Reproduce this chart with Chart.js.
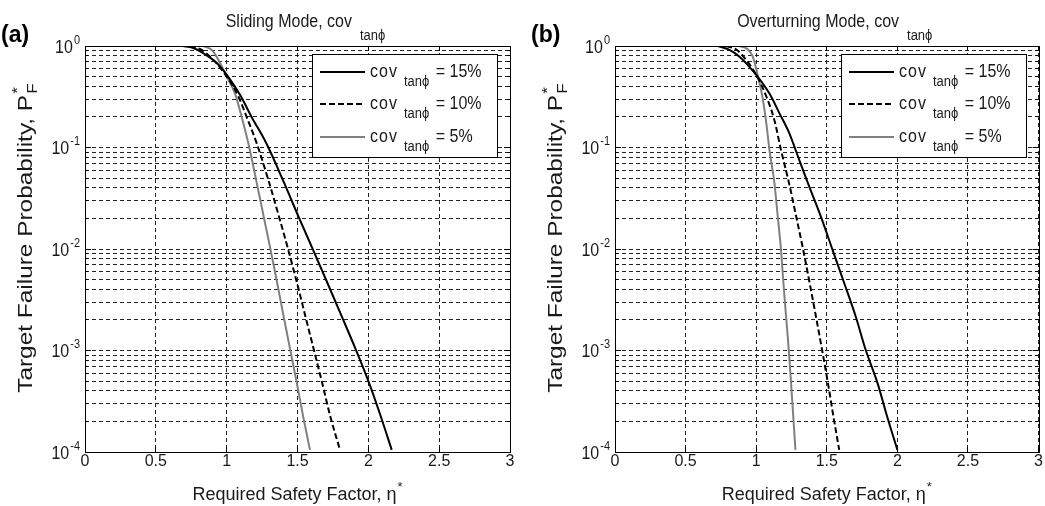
<!DOCTYPE html>
<html><head><meta charset="utf-8">
<script src="https://cdn.jsdelivr.net/npm/chart.js@4/dist/chart.umd.min.js"></script>
<style>
html,body{margin:0;padding:0;background:#fff;width:1045px;height:506px;overflow:hidden;}
canvas{position:absolute;top:0;}
#c1{left:0}
#c2{left:530px}
</style></head><body>
<canvas id="c1" width="522" height="506"></canvas>
<canvas id="c2" width="515" height="506"></canvas>
<script>
// ---------- data ----------
const etaTicks = [0, 0.5, 1, 1.5, 2, 2.5, 3];
const etaTickLabels = ['0', '0.5', '1', '1.5', '2', '2.5', '3'];
const pfDecades = [1, 0.1, 0.01, 0.001, 0.0001];
const pfDecadeExp = ['0', '-1', '-2', '-3', '-4'];
const pfGrid = [0.0001,0.0002,0.0003,0.0004,0.0005,0.0006,0.0007,0.0008,0.0009,
                0.001,0.002,0.003,0.004,0.005,0.006,0.007,0.008,0.009,
                0.01,0.02,0.03,0.04,0.05,0.06,0.07,0.08,0.09,
                0.1,0.2,0.3,0.4,0.5,0.6,0.7,0.8,0.9,1];
const panelLetters = ['(a)', '(b)'];
const panelTitles = ['Sliding Mode, cov', 'Overturning Mode, cov'];
const covSub = 'tan\u03D5';
const legendPct = ['15%', '10%', '5%'];
const xTitle = 'Required Safety Factor, \u03B7';
const yTitle = 'Target Failure Probability, P';

// Sliding mode
const slideEta15 = [0.69, 0.76, 0.835, 0.93, 1.01, 1.094, 1.176, 1.28, 1.405, 1.508, 1.610, 1.712, 1.814, 1.913, 2.005, 2.090, 2.165];
const slidePf15  = [1.0, 0.96, 0.85, 0.68, 0.50, 0.33, 0.20, 0.11, 0.045, 0.0207, 0.0098, 0.0046, 0.00214, 0.00101, 0.00048, 0.00022, 0.000105];
const slideEta10 = [0.741, 0.82, 0.906, 1.00, 1.082, 1.141, 1.212, 1.300, 1.370, 1.435, 1.497, 1.557, 1.616, 1.674, 1.733, 1.800];
const slidePf10  = [1.0, 0.92, 0.73, 0.50, 0.32, 0.20, 0.11, 0.045, 0.0207, 0.0098, 0.0046, 0.00214, 0.00101, 0.00048, 0.00022, 0.000105];
const slideEta5  = [0.835, 0.90, 0.953, 1.00, 1.059, 1.106, 1.153, 1.212, 1.262, 1.310, 1.357, 1.403, 1.449, 1.495, 1.541, 1.588];
const slidePf5   = [1.0, 0.9, 0.68, 0.50, 0.34, 0.20, 0.11, 0.045, 0.0207, 0.0098, 0.0046, 0.00214, 0.00101, 0.00048, 0.00022, 0.000105];

// Overturning mode
const overEta15 = [0.729, 0.80, 0.882, 1.00, 1.094, 1.165, 1.235, 1.280, 1.365, 1.459, 1.541, 1.624, 1.706, 1.776, 1.859, 1.929, 2.00];
const overPf15  = [1.0, 0.93, 0.785, 0.52, 0.34, 0.217, 0.138, 0.094, 0.045, 0.0207, 0.0098, 0.0046, 0.00214, 0.00101, 0.00048, 0.00022, 0.000105];
const overEta10 = [0.788, 0.86, 0.929, 1.00, 1.071, 1.129, 1.176, 1.232, 1.284, 1.333, 1.379, 1.424, 1.467, 1.508, 1.548, 1.588];
const overPf10  = [1.0, 0.92, 0.73, 0.52, 0.32, 0.186, 0.094, 0.045, 0.0207, 0.0098, 0.0046, 0.00214, 0.00101, 0.00048, 0.00022, 0.000105];
const overEta5  = [0.882, 0.94, 0.976, 1.01, 1.047, 1.075, 1.094, 1.129, 1.153, 1.176, 1.193, 1.212, 1.231, 1.247, 1.263, 1.278];
const overPf5   = [1.0, 0.93, 0.785, 0.52, 0.30, 0.16, 0.094, 0.045, 0.0207, 0.0098, 0.0046, 0.00214, 0.00101, 0.00048, 0.00022, 0.000105];

// ---------- styles ----------
const FONT = 'Liberation Sans, Arial, Helvetica, sans-serif';
const TXT = '#1a1a1a';
const seriesStyle = [
  {color: '#000000', dash: []},
  {color: '#000000', dash: [6, 3]},
  {color: '#808080', dash: []}
];
Chart.defaults.font.family = FONT;

function rich(ctx, segs, x, y, align, opts) {
  opts = opts || {};
  let w = 0;
  segs.forEach(s => {
    ctx.font = s.f;
    ctx.letterSpacing = s.ls || '0px';
    s.w = ctx.measureText(s.t).width;
    if (!s.stack) w += s.w + (s.gap || 0);
  });
  ctx.letterSpacing = '0px';
  ctx.save();
  ctx.fillStyle = TXT;
  ctx.textBaseline = 'alphabetic';
  ctx.textAlign = 'left';
  ctx.translate(x, y);
  if (opts.rotate) ctx.rotate(-Math.PI / 2);
  const sx = opts.sx || 1, sy = opts.sy || 1;
  let cx = align === 'center' ? -w * sx / 2 : (align === 'right' ? -w * sx : 0);
  let lastX = cx;
  segs.forEach(s => {
    ctx.font = s.f;
    ctx.letterSpacing = s.ls || '0px';
    const px = s.stack ? lastX : cx + (s.gap || 0) * sx;
    ctx.save();
    ctx.translate(px, s.dy || 0);
    ctx.scale(sx, sy);
    ctx.fillText(s.t, 0, 0);
    ctx.restore();
    if (!s.stack) { lastX = px; cx = px + s.w * sx; }
  });
  ctx.letterSpacing = '0px';
  ctx.restore();
}

function line(ctx, x1, y1, x2, y2) { ctx.beginPath(); ctx.moveTo(x1, y1); ctx.lineTo(x2, y2); ctx.stroke(); }
function al(p) { return Math.round(p - 0.5) + 0.5; }

function decor(idx) {
  return {
    id: 'decor' + idx,
    afterDraw(chart) {
      const ctx = chart.ctx, a = chart.chartArea;
      const xs = chart.scales.x, ys = chart.scales.y;
      ctx.save();
      ctx.setLineDash([]);
      ctx.strokeStyle = '#000';
      ctx.lineWidth = 1;
      // inner tick marks
      pfGrid.forEach(v => {
        const y = al(ys.getPixelForValue(v));
        const L = pfDecades.includes(v) ? 6 : 3;
        line(ctx, a.left, y, a.left + L, y);
        line(ctx, a.right, y, a.right - L, y);
      });
      etaTicks.forEach(v => {
        const x = al(xs.getPixelForValue(v));
        line(ctx, x, a.bottom, x, a.bottom - 5);
        line(ctx, x, a.top, x, a.top + 5);
      });
      // axes box
      ctx.strokeRect(al(a.left), al(a.top), Math.round(a.right - a.left), Math.round(a.bottom - a.top));

      // legend
      const lw = 185, lh = 103;
      const lx = Math.round(a.right - 13 - lw), ly = Math.round(a.top + 8);
      ctx.fillStyle = '#fff';
      ctx.fillRect(lx, ly, lw, lh);
      ctx.strokeRect(lx + 0.5, ly + 0.5, lw, lh);
      const rows = [18, 50, 83];
      chart.data.datasets.forEach((d, i) => {
        const ry = ly + rows[i];
        ctx.save();
        ctx.strokeStyle = d.borderColor;
        ctx.lineWidth = 2;
        ctx.setLineDash(d.borderDash || []);
        line(ctx, lx + 8, ry, lx + 53, ry);
        ctx.restore();
        rich(ctx, [
          {t: 'cov', f: '16px ' + FONT, ls: '1px'},
          {t: covSub, f: '13px ' + FONT, dy: 9, gap: 6},
          {t: ' = ' + legendPct[i], f: '16px ' + FONT, gap: 2}
        ], lx + 58, ry + 5, 'left', {sy: 1.1});
      });

      // y tick labels (10^k)
      pfDecades.forEach((v, i) => {
        const y = ys.getPixelForValue(v);
        rich(ctx, [
          {t: '10', f: '16px ' + FONT},
          {t: pfDecadeExp[i], f: '11px ' + FONT, dy: -9, gap: 1}
        ], a.left - 5, y + 6.5, 'right', {sy: 1.1});
      });

      const cxp = (a.left + a.right) / 2;
      // panel title
      rich(ctx, [
        {t: panelTitles[idx], f: '16px ' + FONT},
        {t: covSub, f: '13px ' + FONT, dy: 13, gap: 8}
      ], cxp + 8, 27, 'center', {sy: 1.1});
      // panel letter
      ctx.save();
      ctx.fillStyle = '#000';
      ctx.font = 'bold 23px ' + FONT;
      ctx.textAlign = 'left';
      ctx.textBaseline = 'alphabetic';
      ctx.fillText(panelLetters[idx], 1, 42);
      ctx.restore();
      // x title
      rich(ctx, [
        {t: xTitle, f: '18px ' + FONT},
        {t: '*', f: '13px ' + FONT, dy: -9, gap: 1}
      ], cxp, 500, 'center', {sy: 1.05});
      // y title
      rich(ctx, [
        {t: yTitle, f: '20px ' + FONT},
        {t: 'F', f: '14px ' + FONT, dy: 5, gap: 1},
        {t: '*', f: '14px ' + FONT, dy: -10, stack: true}
      ], 32, 238, 'center', {rotate: true, sx: 1.22});
      ctx.restore();
    }
  };
}

function build(canvasId, idx, sets, padRight) {
  const datasets = sets.map((s, i) => ({
    label: 'cov ' + covSub + ' = ' + legendPct[i],
    data: s.eta.map((x, k) => ({x: x, y: s.pf[k]})),
    borderColor: seriesStyle[i].color,
    borderDash: seriesStyle[i].dash,
    borderWidth: 2,
    pointRadius: 0,
    fill: false,
    cubicInterpolationMode: 'monotone'
  }));
  return new Chart(document.getElementById(canvasId), {
    type: 'line',
    data: {datasets: datasets},
    options: {
      responsive: false,
      animation: false,
      events: [],
      layout: {padding: {left: 0, right: padRight, top: 46, bottom: 0}},
      plugins: {legend: {display: false}, tooltip: {enabled: false}, title: {display: false}},
      scales: {
        x: {
          type: 'linear', min: 0, max: 3,
          afterBuildTicks(s) { s.ticks = etaTicks.map(v => ({value: v})); },
          ticks: {color: TXT, font: {size: 16, lineHeight: 1}, padding: 2, maxRotation: 0, autoSkip: false,
                  callback: (v, i) => etaTickLabels[i]},
          grid: {color: '#222', lineWidth: 1, drawTicks: false},
          border: {display: false, dash: [4, 3]},
          afterFit(s) { s.height = 54; }
        },
        y: {
          type: 'logarithmic', min: 0.0001, max: 1,
          afterBuildTicks(s) { s.ticks = pfGrid.map(v => ({value: v})); },
          ticks: {display: false},
          grid: {color: '#222', lineWidth: 1, drawTicks: false},
          border: {display: false, dash: [4, 3]},
          afterFit(s) { s.width = 85; }
        }
      }
    },
    plugins: [decor(idx)]
  });
}

build('c1', 0, [
  {eta: slideEta15, pf: slidePf15},
  {eta: slideEta10, pf: slidePf10},
  {eta: slideEta5, pf: slidePf5}
], 12);
build('c2', 1, [
  {eta: overEta15, pf: overPf15},
  {eta: overEta10, pf: overPf10},
  {eta: overEta5, pf: overPf5}
], 5);
</script>
</body></html>
